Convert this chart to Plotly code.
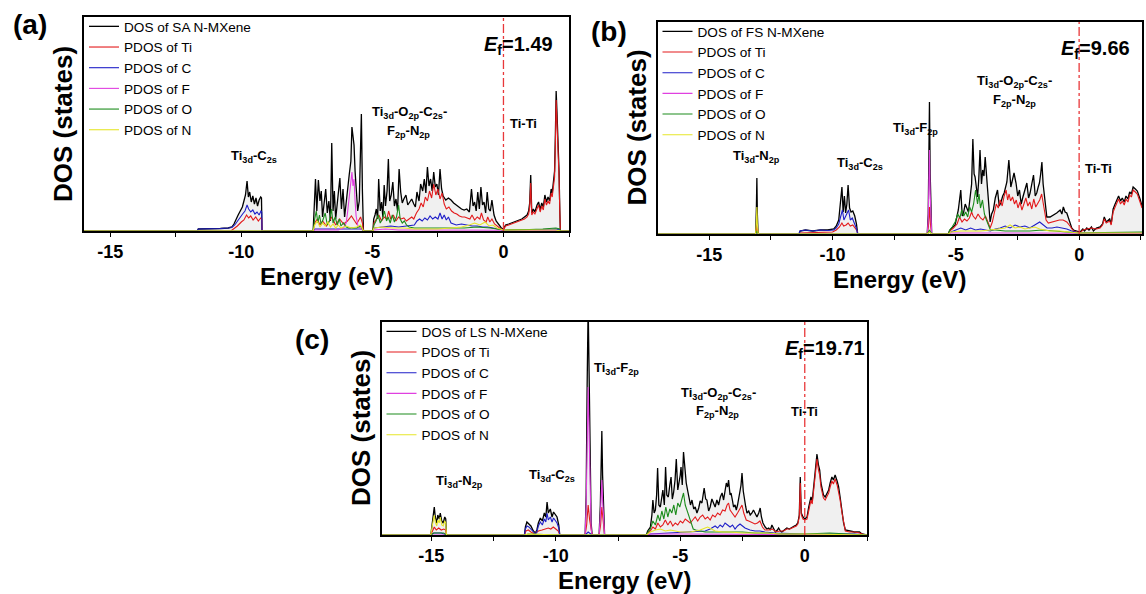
import plotly.graph_objects as go

W, H = 1146, 594
FONT = "Liberation Sans"

# ---------------------------------------------------------------------------
# DOS data: (energy relative to E_f in eV, DOS in states)
# ---------------------------------------------------------------------------

# (a) SA N-MXene
a_total = [(-16, 0), (-11.68, 0), (-11.64, 2), (-11.2, 2), (-10.8, 2.5), (-10.5, 3), (-10.36, 4), (-10.28, 7),
           (-10.2, 12), (-10.12, 16), (-10.04, 20), (-9.96, 24), (-9.9, 30), (-9.84, 36), (-9.78, 50), (-9.73, 34),
           (-9.68, 39), (-9.62, 29), (-9.56, 35), (-9.5, 27), (-9.44, 33), (-9.38, 25), (-9.32, 31), (-9.26, 34),
           (-9.23, 33), (-9.21, 0),
           (-7.26, 0), (-7.22, 30), (-7.17, 52), (-7.12, 20), (-7.06, 51), (-7.0, 30), (-6.95, 40), (-6.9, 14),
           (-6.84, 28), (-6.78, 42), (-6.72, 18), (-6.66, 30), (-6.6, 10), (-6.55, 88), (-6.5, 20), (-6.45, 40),
           (-6.4, 12), (-6.34, 30), (-6.28, 45), (-6.24, 53), (-6.18, 22), (-6.12, 42), (-6.06, 14), (-6.0, 30),
           (-5.94, 48), (-5.88, 57), (-5.82, 70), (-5.78, 104), (-5.74, 95), (-5.7, 86), (-5.66, 60), (-5.62, 40),
           (-5.56, 20), (-5.5, 30), (-5.46, 80), (-5.42, 117), (-5.38, 40), (-5.34, 0),
           (-4.98, 0), (-4.95, 12), (-4.9, 16), (-4.85, 22), (-4.8, 12), (-4.76, 52), (-4.7, 20), (-4.65, 29),
           (-4.6, 14), (-4.55, 46), (-4.5, 25), (-4.44, 40), (-4.39, 72), (-4.34, 30), (-4.28, 36), (-4.22, 49),
           (-4.16, 25), (-4.1, 32), (-4.04, 20), (-3.98, 62), (-3.92, 39), (-3.86, 28), (-3.8, 32), (-3.72, 36),
           (-3.65, 26), (-3.58, 29), (-3.5, 32), (-3.42, 27), (-3.36, 24), (-3.3, 39), (-3.22, 30), (-3.16, 47),
           (-3.08, 40), (-3.02, 52), (-2.96, 38), (-2.9, 64), (-2.84, 45), (-2.78, 52), (-2.72, 40), (-2.66, 59),
           (-2.6, 44), (-2.54, 47), (-2.48, 36), (-2.42, 62), (-2.36, 42), (-2.3, 35), (-2.2, 31), (-2.1, 33),
           (-2.0, 31), (-1.9, 28), (-1.8, 26), (-1.7, 24), (-1.6, 22), (-1.5, 21), (-1.4, 22), (-1.3, 19),
           (-1.22, 42), (-1.16, 25), (-1.1, 29), (-1.04, 20), (-0.98, 39), (-0.92, 22), (-0.86, 44), (-0.8, 26),
           (-0.74, 29), (-0.68, 18), (-0.62, 39), (-0.56, 22), (-0.5, 20), (-0.44, 31), (-0.36, 16), (-0.28, 10),
           (-0.18, 6), (-0.08, 3), (0.0, 2), (0.08, 6), (0.2, 7), (0.3, 8), (0.4, 9), (0.5, 10), (0.6, 11),
           (0.7, 12), (0.8, 14), (0.9, 16), (0.96, 20), (1.0, 28), (1.04, 56), (1.08, 18), (1.14, 22), (1.2, 19),
           (1.28, 26), (1.34, 29), (1.4, 21), (1.46, 28), (1.52, 24), (1.58, 36), (1.64, 29), (1.7, 34),
           (1.76, 30), (1.82, 42), (1.86, 38), (1.9, 50), (1.95, 60), (1.98, 96), (2.01, 140), (2.04, 120),
           (2.08, 96), (2.12, 60), (2.15, 20), (2.17, 0), (2.5, 0)]
a_ti = [(-16, 0), (-10.4, 0), (-10.3, 2), (-10.15, 5), (-10.0, 9), (-9.9, 11), (-9.8, 16), (-9.72, 13), (-9.64, 15),
        (-9.55, 11), (-9.45, 14), (-9.35, 10), (-9.26, 13), (-9.22, 12), (-9.21, 0),
        (-7.26, 0), (-7.2, 8), (-7.1, 12), (-7.0, 6), (-6.9, 10), (-6.75, 5), (-6.55, 14), (-6.4, 6), (-6.25, 12),
        (-6.1, 7), (-5.95, 10), (-5.8, 15), (-5.72, 12), (-5.6, 7), (-5.45, 14), (-5.38, 8), (-5.34, 0),
        (-4.98, 0), (-4.94, 8), (-4.85, 12), (-4.75, 16), (-4.65, 10), (-4.55, 14), (-4.45, 12), (-4.38, 20),
        (-4.3, 12), (-4.2, 16), (-4.1, 10), (-4.0, 14), (-3.9, 12), (-3.8, 13), (-3.7, 10), (-3.6, 12), (-3.5, 14),
        (-3.42, 12), (-3.32, 18), (-3.22, 22), (-3.14, 28), (-3.06, 24), (-2.98, 34), (-2.9, 30), (-2.82, 40),
        (-2.74, 33), (-2.66, 47), (-2.58, 36), (-2.5, 42), (-2.42, 32), (-2.34, 38), (-2.26, 27), (-2.18, 22),
        (-2.08, 24), (-1.98, 20), (-1.88, 18), (-1.78, 17), (-1.68, 15), (-1.58, 14), (-1.48, 14), (-1.38, 13),
        (-1.28, 12), (-1.2, 16), (-1.1, 11), (-1.0, 14), (-0.9, 12), (-0.84, 18), (-0.76, 11), (-0.66, 9),
        (-0.6, 14), (-0.52, 9), (-0.44, 12), (-0.34, 7), (-0.22, 4), (-0.1, 2), (0, 1), (0.08, 5), (0.2, 6),
        (0.3, 7), (0.4, 8), (0.5, 9), (0.6, 10), (0.7, 11), (0.8, 12), (0.9, 14), (0.96, 17), (1.0, 24),
        (1.04, 48), (1.08, 16), (1.14, 19), (1.2, 17), (1.28, 23), (1.34, 26), (1.4, 19), (1.46, 25), (1.52, 21),
        (1.58, 32), (1.64, 26), (1.7, 30), (1.76, 27), (1.82, 38), (1.86, 34), (1.9, 45), (1.95, 54), (1.98, 86),
        (2.01, 131), (2.04, 110), (2.08, 88), (2.12, 54), (2.15, 18), (2.17, 0), (2.5, 0)]
a_c = [(-16, 0), (-11.68, 0), (-11.64, 2), (-11.2, 2), (-10.8, 2.5), (-10.5, 3), (-10.36, 3.5), (-10.25, 6),
       (-10.15, 10), (-10.05, 14), (-9.95, 17), (-9.86, 20), (-9.78, 26), (-9.72, 22), (-9.64, 19), (-9.56, 21),
       (-9.48, 17), (-9.4, 19), (-9.32, 16), (-9.25, 20), (-9.22, 19), (-9.21, 0),
       (-7.26, 0), (-7.2, 2), (-6.6, 2), (-5.4, 2), (-5.34, 0),
       (-4.98, 0), (-4.94, 3), (-4.6, 4), (-4.3, 5), (-4.0, 4), (-3.7, 5), (-3.4, 6), (-3.3, 10), (-3.2, 12),
       (-3.1, 10), (-3.0, 13), (-2.9, 11), (-2.8, 15), (-2.7, 12), (-2.6, 14), (-2.5, 12), (-2.42, 18), (-2.34, 12),
       (-2.26, 16), (-2.18, 11), (-2.1, 14), (-2.0, 8), (-1.8, 6), (-1.6, 7), (-1.4, 6), (-1.2, 5), (-1.0, 5),
       (-0.8, 4), (-0.6, 4), (-0.4, 3), (-0.2, 2), (0, 1), (0.5, 1), (1.0, 1), (1.5, 1.5), (2.0, 2), (2.15, 1),
       (2.17, 0), (2.5, 0)]
a_f = [(-16, 0), (-7.26, 0), (-7.2, 1), (-6.3, 1), (-6.1, 3), (-6.0, 8), (-5.94, 20), (-5.88, 35), (-5.82, 50),
       (-5.78, 59), (-5.74, 45), (-5.7, 52), (-5.66, 30), (-5.62, 15), (-5.55, 5), (-5.45, 3), (-5.34, 0),
       (-4.98, 0), (-4.94, 1), (-4.5, 2), (-4.0, 1), (-3, 1), (-2, 1), (-1, 1), (0, 0.5), (2.2, 0.5), (2.5, 0)]
a_o = [(-16, 0), (-7.26, 0), (-7.2, 12), (-7.14, 20), (-7.08, 8), (-7.02, 16), (-6.95, 6), (-6.88, 12), (-6.8, 18),
       (-6.72, 6), (-6.64, 10), (-6.56, 22), (-6.5, 8), (-6.42, 14), (-6.34, 6), (-6.26, 12), (-6.2, 5), (-6.1, 8),
       (-6.0, 4), (-5.9, 3), (-5.6, 3), (-5.45, 5), (-5.34, 0),
       (-4.98, 0), (-4.94, 6), (-4.86, 10), (-4.78, 16), (-4.7, 8), (-4.62, 12), (-4.54, 20), (-4.46, 10),
       (-4.4, 14), (-4.32, 8), (-4.24, 16), (-4.16, 9), (-4.08, 14), (-4.0, 26), (-3.94, 12), (-3.86, 8),
       (-3.78, 10), (-3.7, 6), (-3.6, 4), (-3.4, 3), (-3.0, 3), (-2.5, 3), (-2.0, 3), (-1.5, 3), (-1.0, 4),
       (-0.5, 3), (0, 1), (0.5, 1), (1.0, 1.5), (1.5, 2), (2.0, 3), (2.15, 2), (2.17, 0), (2.5, 0)]
a_n = [(-16, 0), (-7.26, 0), (-7.2, 6), (-7.1, 10), (-7.0, 4), (-6.9, 8), (-6.8, 5), (-6.7, 9), (-6.6, 4),
       (-6.5, 7), (-6.4, 3), (-6.3, 6), (-6.2, 3), (-6.0, 5), (-5.8, 3), (-5.6, 4), (-5.45, 6), (-5.34, 0),
       (-4.98, 0), (-4.94, 3), (-4.6, 4), (-4.2, 3), (-3.8, 3), (-3.4, 2), (-3.0, 2), (-2.5, 2), (-2.0, 3),
       (-1.6, 4), (-1.3, 6), (-1.1, 8), (-0.9, 6), (-0.7, 9), (-0.55, 5), (-0.4, 6), (-0.25, 3), (0, 1),
       (1.0, 1), (2.0, 1), (2.17, 0), (2.5, 0)]

# (b) FS N-MXene
b_total = [(-17.1, 0), (-13.12, 0), (-13.09, 25), (-13.07, 56), (-13.05, 20), (-13.02, 0),
           (-11.36, 0), (-11.32, 3), (-11.1, 4), (-10.8, 3), (-10.5, 4), (-10.2, 4), (-9.95, 5), (-9.85, 8),
           (-9.75, 14), (-9.68, 30), (-9.62, 47), (-9.57, 22), (-9.52, 38), (-9.47, 21), (-9.42, 30), (-9.37, 49),
           (-9.31, 26), (-9.25, 22), (-9.18, 23), (-9.1, 18), (-9.03, 10), (-8.98, 0),
           (-6.16, 0), (-6.12, 20), (-6.09, 80), (-6.07, 132), (-6.04, 60), (-6.01, 15), (-5.98, 0),
           (-5.3, 0), (-5.26, 3), (-5.17, 6), (-5.03, 9), (-4.9, 24), (-4.8, 44), (-4.74, 18), (-4.69, 21),
           (-4.62, 30), (-4.56, 27), (-4.49, 22), (-4.42, 37), (-4.36, 50), (-4.31, 95), (-4.26, 60), (-4.22, 57),
           (-4.12, 37), (-4.07, 55), (-4.02, 84), (-3.96, 50), (-3.91, 64), (-3.86, 58), (-3.81, 77), (-3.72, 47),
           (-3.66, 30), (-3.61, 12), (-3.55, 20), (-3.48, 24), (-3.4, 36), (-3.31, 44), (-3.24, 28), (-3.18, 31),
           (-3.1, 38), (-3.04, 41), (-2.93, 52), (-2.85, 74), (-2.77, 47), (-2.7, 55), (-2.64, 61), (-2.56, 51),
           (-2.49, 38), (-2.42, 44), (-2.35, 30), (-2.28, 37), (-2.2, 45), (-2.12, 51), (-2.05, 36), (-1.99, 41),
           (-1.92, 50), (-1.85, 59), (-1.78, 38), (-1.72, 41), (-1.66, 47), (-1.61, 51), (-1.56, 60), (-1.51, 72),
           (-1.46, 50), (-1.42, 41), (-1.36, 22), (-1.31, 17), (-1.18, 17), (-1.04, 19), (-0.91, 21), (-0.77, 24),
           (-0.7, 20), (-0.64, 27), (-0.57, 22), (-0.5, 21), (-0.44, 16), (-0.37, 11), (-0.3, 6), (-0.23, 4),
           (-0.09, 3), (0.04, 2), (0.15, 5), (0.22, 3), (0.31, 6), (0.4, 4), (0.5, 7), (0.58, 3), (0.7, 6),
           (0.85, 7), (0.95, 10), (1.02, 17), (1.1, 12), (1.18, 14), (1.24, 15), (1.3, 10), (1.38, 25), (1.46, 30),
           (1.53, 35), (1.6, 38), (1.68, 33), (1.75, 36), (1.83, 32), (1.9, 38), (1.98, 35), (2.05, 42), (2.12, 40),
           (2.19, 47), (2.28, 45), (2.36, 43), (2.47, 35), (2.55, 28)]
b_ti = [(-17.1, 0), (-13.12, 0), (-13.08, 5), (-13.06, 10), (-13.04, 4), (-13.02, 0),
        (-11.36, 0), (-11.32, 1), (-10.0, 2), (-9.85, 4), (-9.72, 7), (-9.62, 11), (-9.55, 8), (-9.45, 9),
        (-9.37, 11), (-9.28, 8), (-9.18, 9), (-9.08, 6), (-9.0, 3), (-8.98, 0),
        (-6.16, 0), (-6.11, 8), (-6.07, 27), (-6.03, 10), (-5.98, 0),
        (-5.3, 0), (-5.25, 3), (-5.1, 6), (-4.95, 10), (-4.85, 17), (-4.75, 12), (-4.65, 15), (-4.55, 13),
        (-4.45, 16), (-4.36, 22), (-4.3, 18), (-4.2, 15), (-4.1, 20), (-4.0, 16), (-3.9, 14), (-3.8, 18),
        (-3.7, 12), (-3.61, 6), (-3.52, 12), (-3.44, 22), (-3.36, 30), (-3.28, 26), (-3.2, 34), (-3.12, 28),
        (-3.04, 38), (-2.96, 44), (-2.9, 34), (-2.84, 40), (-2.78, 33), (-2.7, 37), (-2.62, 30), (-2.55, 34),
        (-2.48, 26), (-2.4, 32), (-2.32, 24), (-2.24, 30), (-2.16, 36), (-2.08, 28), (-2.0, 32), (-1.92, 25),
        (-1.84, 35), (-1.76, 27), (-1.68, 31), (-1.6, 34), (-1.52, 40), (-1.46, 30), (-1.4, 24), (-1.34, 14),
        (-1.25, 11), (-1.1, 12), (-0.95, 13), (-0.8, 14), (-0.65, 14), (-0.5, 12), (-0.37, 8), (-0.23, 3),
        (0.04, 1), (0.15, 4), (0.31, 5), (0.5, 6), (0.7, 5), (0.85, 6), (0.95, 9), (1.02, 15), (1.1, 11),
        (1.18, 12), (1.24, 13), (1.3, 9), (1.38, 22), (1.46, 27), (1.53, 32), (1.6, 35), (1.68, 30), (1.75, 33),
        (1.83, 29), (1.9, 35), (1.98, 32), (2.05, 39), (2.12, 37), (2.19, 44), (2.28, 42), (2.36, 40),
        (2.47, 32), (2.55, 26)]
b_c = [(-17.1, 0), (-13.12, 0), (-13.07, 2), (-13.02, 0), (-11.36, 0), (-11.32, 3), (-11.1, 4), (-10.8, 3),
       (-10.5, 4), (-10.2, 3.5), (-9.95, 4), (-9.85, 6), (-9.75, 10), (-9.68, 16), (-9.6, 24), (-9.54, 14),
       (-9.47, 18), (-9.4, 22), (-9.35, 24), (-9.28, 14), (-9.2, 16), (-9.12, 11), (-9.04, 6), (-8.98, 0),
       (-6.16, 0), (-6.07, 2), (-5.98, 0),
       (-5.3, 0), (-5.2, 2), (-5.0, 4), (-4.8, 6), (-4.6, 4), (-4.4, 6), (-4.2, 4), (-4.0, 5), (-3.8, 4),
       (-3.6, 3), (-3.4, 5), (-3.2, 6), (-3.0, 8), (-2.8, 6), (-2.6, 9), (-2.4, 7), (-2.2, 8), (-2.0, 6),
       (-1.8, 9), (-1.6, 12), (-1.5, 10), (-1.4, 8), (-1.3, 6), (-1.1, 6), (-0.9, 7), (-0.7, 6), (-0.5, 5),
       (-0.3, 3), (0, 1), (1.0, 1), (2.55, 1)]
b_f = [(-17.1, 0), (-6.16, 0), (-6.12, 15), (-6.09, 60), (-6.07, 84), (-6.04, 40), (-6.01, 10), (-5.98, 0),
       (-5.3, 0), (-5.2, 1), (-3, 1), (-0.3, 1), (0, 0.5), (2.55, 0.5)]
b_o = [(-17.1, 0), (-13.12, 0), (-13.07, 3), (-13.02, 0), (-6.16, 0), (-6.07, 4), (-5.98, 0),
       (-5.3, 0), (-5.25, 4), (-5.15, 7), (-5.03, 12), (-4.92, 20), (-4.84, 16), (-4.76, 24), (-4.68, 18),
       (-4.6, 22), (-4.52, 17), (-4.44, 27), (-4.36, 22), (-4.28, 30), (-4.2, 44), (-4.12, 30), (-4.06, 40),
       (-4.0, 26), (-3.92, 34), (-3.84, 20), (-3.76, 14), (-3.68, 8), (-3.6, 4), (-3.4, 4), (-3.0, 3), (-2.5, 3),
       (-2.0, 3), (-1.5, 4), (-1.0, 3), (-0.5, 2), (0, 1), (1.0, 1.5), (2.0, 2), (2.55, 2)]
b_n = [(-17.1, 0), (-13.12, 0), (-13.09, 12), (-13.07, 27), (-13.05, 10), (-13.02, 0), (-6.16, 0), (-6.07, 2),
       (-5.98, 0),
       (-5.3, 0), (-5.2, 2), (-4.8, 3), (-4.4, 3), (-4.0, 3), (-3.6, 4), (-3.3, 5), (-3.0, 6), (-2.8, 9),
       (-2.6, 6), (-2.4, 7), (-2.2, 5), (-2.0, 6), (-1.8, 7), (-1.6, 5), (-1.4, 4), (-1.2, 3), (-0.8, 3),
       (-0.4, 2), (0, 1), (2.55, 1)]

# (c) LS N-MXene
c_total = [(-17, 0), (-15.02, 0), (-14.97, 10), (-14.92, 22), (-14.88, 28), (-14.84, 18), (-14.78, 12),
           (-14.74, 20), (-14.68, 16), (-14.64, 22), (-14.58, 14), (-14.52, 12), (-14.46, 18), (-14.42, 16),
           (-14.39, 0),
           (-11.26, 0), (-11.22, 8), (-11.16, 13), (-11.08, 11), (-11.0, 9), (-10.9, 4), (-10.82, 2), (-10.76, 5),
           (-10.7, 12), (-10.62, 17), (-10.54, 14), (-10.46, 22), (-10.4, 18), (-10.35, 33), (-10.3, 22),
           (-10.22, 26), (-10.15, 18), (-10.09, 23), (-10.02, 20), (-9.95, 18), (-9.88, 10), (-9.84, 0),
           (-8.82, 0), (-8.78, 40), (-8.74, 150), (-8.7, 230), (-8.66, 160), (-8.62, 60), (-8.58, 12), (-8.54, 0),
           (-8.26, 0), (-8.21, 30), (-8.17, 80), (-8.15, 104), (-8.12, 60), (-8.08, 15), (-8.04, 0),
           (-6.36, 0), (-6.31, 4), (-6.2, 8), (-6.14, 20), (-6.1, 35), (-6.05, 22), (-6.0, 25), (-5.95, 40),
           (-5.91, 67), (-5.86, 30), (-5.8, 28), (-5.75, 38), (-5.7, 45), (-5.64, 30), (-5.59, 68), (-5.54, 40),
           (-5.48, 38), (-5.42, 50), (-5.37, 58), (-5.32, 36), (-5.27, 42), (-5.21, 55), (-5.16, 76), (-5.1, 45),
           (-5.05, 52), (-5.0, 60), (-4.97, 68), (-4.92, 50), (-4.87, 83), (-4.81, 60), (-4.76, 52), (-4.7, 44),
           (-4.65, 38), (-4.59, 30), (-4.53, 35), (-4.46, 26), (-4.4, 28), (-4.33, 22), (-4.26, 27), (-4.2, 34),
           (-4.13, 32), (-4.08, 40), (-4.04, 47), (-3.98, 36), (-3.93, 35), (-3.86, 24), (-3.8, 28), (-3.73, 36),
           (-3.66, 32), (-3.6, 28), (-3.53, 35), (-3.46, 30), (-3.39, 38), (-3.32, 42), (-3.26, 35), (-3.2, 44),
           (-3.15, 52), (-3.1, 48), (-3.06, 55), (-3.0, 40), (-2.96, 42), (-2.9, 34), (-2.86, 28), (-2.8, 30),
           (-2.75, 25), (-2.7, 30), (-2.66, 38), (-2.6, 44), (-2.56, 50), (-2.52, 62), (-2.47, 44), (-2.43, 35),
           (-2.37, 28), (-2.32, 22), (-2.25, 24), (-2.19, 20), (-2.12, 22), (-2.06, 25), (-1.99, 21), (-1.92, 18),
           (-1.85, 22), (-1.79, 27), (-1.74, 18), (-1.68, 12), (-1.59, 8), (-1.52, 6), (-1.45, 7), (-1.38, 5),
           (-1.32, 10), (-1.25, 6), (-1.18, 3), (-1.1, 5), (-1.05, 7), (-0.98, 4), (-0.92, 3), (-0.82, 5),
           (-0.72, 7), (-0.62, 6), (-0.51, 8), (-0.42, 9), (-0.34, 10), (-0.28, 12), (-0.22, 20), (-0.18, 58),
           (-0.14, 22), (-0.07, 18), (0.0, 16), (0.09, 18), (0.16, 28), (0.25, 38), (0.3, 34), (0.35, 45),
           (0.42, 60), (0.49, 81), (0.55, 70), (0.6, 65), (0.65, 52), (0.69, 48), (0.75, 40), (0.82, 38),
           (0.9, 42), (0.96, 45), (1.02, 52), (1.09, 58), (1.15, 55), (1.22, 60), (1.3, 54), (1.36, 48),
           (1.42, 38), (1.49, 25), (1.56, 12), (1.63, 5), (1.8, 4), (2.0, 3), (2.2, 3), (2.3, 1), (2.5, 0)]
c_ti = [(-17, 0), (-15.02, 0), (-14.95, 4), (-14.88, 8), (-14.8, 5), (-14.7, 7), (-14.6, 5), (-14.5, 6),
        (-14.42, 5), (-14.39, 0),
        (-11.26, 0), (-11.2, 4), (-11.1, 5), (-11.0, 3), (-10.85, 1), (-10.7, 4), (-10.55, 5), (-10.4, 6),
        (-10.3, 7), (-10.2, 6), (-10.1, 8), (-10.0, 6), (-9.9, 4), (-9.84, 0),
        (-8.82, 0), (-8.76, 10), (-8.7, 30), (-8.64, 15), (-8.58, 4), (-8.54, 0),
        (-8.26, 0), (-8.2, 10), (-8.15, 28), (-8.1, 12), (-8.04, 0),
        (-6.36, 0), (-6.3, 2), (-6.2, 4), (-6.1, 8), (-6.0, 6), (-5.9, 12), (-5.8, 8), (-5.7, 10), (-5.6, 15),
        (-5.5, 10), (-5.4, 14), (-5.3, 9), (-5.2, 12), (-5.1, 10), (-5.0, 14), (-4.9, 12), (-4.8, 16),
        (-4.7, 14), (-4.6, 12), (-4.5, 15), (-4.4, 18), (-4.3, 14), (-4.2, 18), (-4.1, 20), (-4.0, 16),
        (-3.9, 18), (-3.8, 15), (-3.7, 20), (-3.6, 18), (-3.5, 22), (-3.4, 20), (-3.3, 25), (-3.2, 24),
        (-3.12, 30), (-3.06, 32), (-3.0, 25), (-2.9, 22), (-2.8, 18), (-2.7, 22), (-2.6, 26), (-2.52, 30),
        (-2.45, 22), (-2.35, 15), (-2.25, 14), (-2.1, 12), (-2.0, 11), (-1.9, 12), (-1.8, 14), (-1.7, 8),
        (-1.6, 5), (-1.45, 5), (-1.3, 6), (-1.15, 3), (-1.0, 4), (-0.85, 4), (-0.72, 6), (-0.6, 6), (-0.5, 7),
        (-0.42, 8), (-0.34, 9), (-0.28, 11), (-0.22, 18), (-0.18, 52), (-0.14, 20), (-0.07, 16), (0.0, 15),
        (0.09, 16), (0.16, 26), (0.25, 35), (0.3, 31), (0.35, 42), (0.42, 56), (0.49, 76), (0.55, 65),
        (0.6, 60), (0.65, 48), (0.69, 44), (0.75, 37), (0.82, 35), (0.9, 39), (0.96, 42), (1.02, 48),
        (1.09, 54), (1.15, 51), (1.22, 56), (1.3, 50), (1.36, 44), (1.42, 35), (1.49, 23), (1.56, 11),
        (1.63, 4), (1.8, 3), (2.0, 3), (2.2, 2), (2.3, 1), (2.5, 0)]
c_c = [(-17, 0), (-15.02, 0), (-14.9, 2), (-14.6, 2), (-14.39, 0),
       (-11.26, 0), (-11.22, 6), (-11.16, 9), (-11.08, 8), (-11.0, 6), (-10.9, 3), (-10.82, 1), (-10.76, 3),
       (-10.7, 9), (-10.62, 13), (-10.54, 10), (-10.46, 16), (-10.4, 13), (-10.35, 22), (-10.3, 15),
       (-10.22, 18), (-10.15, 13), (-10.09, 17), (-10.02, 14), (-9.95, 12), (-9.88, 7), (-9.84, 0),
       (-8.82, 0), (-8.7, 3), (-8.54, 0),
       (-6.36, 0), (-6.2, 1), (-5.5, 2), (-5.0, 2), (-4.5, 3), (-4.0, 4), (-3.8, 6), (-3.6, 9), (-3.5, 7),
       (-3.4, 10), (-3.3, 8), (-3.2, 12), (-3.1, 10), (-3.0, 8), (-2.9, 10), (-2.8, 6), (-2.7, 9), (-2.6, 11),
       (-2.5, 9), (-2.4, 7), (-2.2, 5), (-2.0, 4), (-1.8, 4), (-1.6, 3), (-1.2, 2), (-0.5, 1), (0, 1), (1.0, 1),
       (2.0, 1), (2.5, 0)]
c_f = [(-17, 0), (-8.82, 0), (-8.78, 30), (-8.74, 110), (-8.7, 148), (-8.66, 100), (-8.62, 30), (-8.58, 6),
       (-8.54, 0),
       (-8.26, 0), (-8.21, 20), (-8.17, 45), (-8.15, 55), (-8.12, 35), (-8.08, 8), (-8.04, 0),
       (-6.36, 0), (-6.2, 1), (-5, 1), (-3, 1), (-1, 1), (0, 0.5), (2.5, 0)]
c_o = [(-17, 0), (-15.02, 0), (-14.9, 2), (-14.5, 2), (-14.39, 0), (-11.26, 0), (-11.1, 1), (-9.84, 0),
       (-6.36, 0), (-6.3, 3), (-6.2, 6), (-6.1, 14), (-6.0, 10), (-5.9, 20), (-5.82, 14), (-5.74, 24),
       (-5.66, 16), (-5.58, 28), (-5.5, 18), (-5.42, 26), (-5.34, 22), (-5.26, 30), (-5.18, 20), (-5.1, 32),
       (-5.02, 28), (-4.94, 36), (-4.87, 42), (-4.8, 30), (-4.72, 24), (-4.64, 16), (-4.56, 10), (-4.48, 6),
       (-4.38, 5), (-4.2, 4), (-4.0, 3), (-3.5, 3), (-3.0, 3), (-2.5, 3), (-2.0, 2), (-1.5, 2), (-1.0, 1),
       (0, 1), (1.0, 2), (2.0, 1), (2.5, 0)]
c_n = [(-17, 0), (-15.02, 0), (-14.97, 8), (-14.92, 16), (-14.88, 20), (-14.84, 13), (-14.78, 9), (-14.74, 15),
       (-14.68, 12), (-14.64, 18), (-14.58, 10), (-14.52, 9), (-14.46, 14), (-14.42, 12), (-14.39, 0),
       (-11.26, 0), (-11.1, 1), (-9.84, 0),
       (-6.36, 0), (-6.2, 3), (-6.0, 5), (-5.8, 6), (-5.6, 4), (-5.4, 5), (-5.2, 4), (-5.0, 3), (-4.6, 3),
       (-4.2, 5), (-4.0, 7), (-3.9, 8), (-3.75, 6), (-3.6, 4), (-3.3, 3), (-3.0, 3), (-2.5, 2), (-2.0, 2),
       (-1.5, 2), (-1.0, 1), (0, 1), (2.5, 0)]

series_names = ["PDOS of Ti", "PDOS of C", "PDOS of F", "PDOS of O", "PDOS of N"]
total_names = ["DOS of SA N-MXene", "DOS of FS N-MXene", "DOS of LS N-MXene"]
fermi_labels = ["1.49", "9.66", "19.71"]
tick_values = [-15, -10, -5, 0]
tick_text = ["-15", "-10", "-5", "0"]

COLORS = ["#000000", "#e31a1c", "#1f1fc8", "#e040e0", "#1c8c1c", "#e6e629"]
WIDTHS = [1.3, 1.1, 1.1, 1.1, 1.1, 1.1]

# ---------------------------------------------------------------------------
# Layout geometry (pixels in the 1146 x 594 page)
# ---------------------------------------------------------------------------
def fx(px):
    return px / W


def fy(py):
    return 1 - py / H


panels = [
    dict(box=(84, 569, 17, 231), xr=(-16, 2.5), ymax=214, data=[a_total, a_ti, a_c, a_f, a_o, a_n]),
    dict(box=(657.5, 1142, 22, 234), xr=(-17.1, 2.55), ymax=212, data=[b_total, b_ti, b_c, b_f, b_o, b_n]),
    dict(box=(381.5, 867, 322, 535), xr=(-17, 2.5), ymax=213, data=[c_total, c_ti, c_c, c_f, c_o, c_n]),
]

fig = go.Figure()
layout = dict(
    width=W, height=H, margin=dict(l=0, r=0, t=0, b=0),
    paper_bgcolor="white", plot_bgcolor="white",
    font=dict(family=FONT, color="black"),
    showlegend=True, annotations=[], shapes=[],
)

for i, p in enumerate(panels):
    n = "" if i == 0 else str(i + 1)
    xa, ya, lg = "x" + n, "y" + n, "legend" + n
    x0, x1, y0, y1 = p["box"]

    # light grey area under the total DOS
    e, d = zip(*p["data"][0])
    fig.add_trace(go.Scatter(x=e, y=d, xaxis=xa, yaxis=ya, mode="lines", line=dict(width=0),
                             fill="tozeroy", fillcolor="#f0f0f0", hoverinfo="skip", showlegend=False))
    names = [total_names[i]] + series_names
    for pts, name, col, lw in zip(p["data"], names, COLORS, WIDTHS):
        e, d = zip(*pts)
        fig.add_trace(go.Scatter(x=e, y=d, xaxis=xa, yaxis=ya, mode="lines", name=name,
                                 line=dict(color=col, width=lw), legend=lg))

    layout["xaxis" + n] = dict(
        domain=[fx(x0), fx(x1)], range=list(p["xr"]), anchor=ya,
        showline=True, linecolor="black", linewidth=1.5, mirror=True,
        ticks="outside", ticklen=4, tickwidth=1.2, tickcolor="black",
        tickmode="array", tickvals=tick_values, ticktext=tick_text,
        showgrid=False, zeroline=False,
        tickfont=dict(family=FONT, size=18, weight="bold", color="black"),
        minor=dict(tickmode="linear", dtick=2.5, tick0=0, ticks="outside", ticklen=4, tickwidth=1.2,
                   tickcolor="black", showgrid=False),
    )
    layout["yaxis" + n] = dict(
        domain=[fy(y1), fy(y0)], range=[0, p["ymax"]], anchor=xa,
        showline=True, linecolor="black", linewidth=1.5, mirror=True,
        ticks="", showticklabels=False, showgrid=False, zeroline=False,
    )
    layout[lg] = dict(
        x=fx(x0), y=fy(y0 - 6), xanchor="left", yanchor="top",
        bgcolor="rgba(0,0,0,0)", borderwidth=0, tracegroupgap=0, itemwidth=30,
        font=dict(family=FONT, size=13.6, color="black"),
    )

    # Fermi level
    layout["shapes"].append(dict(type="line", xref=xa, yref=ya + " domain", x0=0, x1=0, y0=0, y1=1,
                                 line=dict(color="#e8383a", width=1.3, dash="dashdot")))

    cx, cy = (x0 + x1) / 2, (y0 + y1) / 2
    layout["annotations"] += [
        dict(text="<b>Energy (eV)</b>", x=fx(cx), y=fy(y1 + 45), xref="paper", yref="paper",
             showarrow=False, font=dict(size=24), xanchor="center", yanchor="middle"),
        dict(text="<b>DOS (states)</b>", x=fx(x0 - 21), y=fy(cy), xref="paper", yref="paper",
             showarrow=False, font=dict(size=26), textangle=-90, xanchor="center", yanchor="middle"),
    ]

# panel tags, Fermi labels and band-character labels (x, y in page pixels)
text_items = [
    ("<b>(a)</b>", 30, 24, 28), ("<b>(b)</b>", 609, 32, 28), ("<b>(c)</b>", 312, 340, 28),
    ("<b><i>E</i><sub>f</sub>=" + fermi_labels[0] + "</b>", 518, 45, 20),
    ("<b><i>E</i><sub>f</sub>=" + fermi_labels[1] + "</b>", 1095, 50, 20),
    ("<b><i>E</i><sub>f</sub>=" + fermi_labels[2] + "</b>", 825, 349, 20),
    # (a)
    ("<b>Ti<sub>3d</sub>-C<sub>2s</sub></b>", 254, 157, 13),
    ("<b>Ti<sub>3d</sub>-O<sub>2p</sub>-C<sub>2s</sub>-</b>", 409, 113, 13),
    ("<b>F<sub>2p</sub>-N<sub>2p</sub></b>", 408, 131, 13),
    ("<b>Ti-Ti</b>", 523, 123, 13),
    # (b)
    ("<b>Ti<sub>3d</sub>-N<sub>2p</sub></b>", 756, 157, 13),
    ("<b>Ti<sub>3d</sub>-C<sub>2s</sub></b>", 860, 163, 13),
    ("<b>Ti<sub>3d</sub>-F<sub>2p</sub></b>", 915, 129, 13),
    ("<b>Ti<sub>3d</sub>-O<sub>2p</sub>-C<sub>2s</sub>-</b>", 1014, 81, 13),
    ("<b>F<sub>2p</sub>-N<sub>2p</sub></b>", 1014, 100, 13),
    ("<b>Ti-Ti</b>", 1098, 168, 13),
    # (c)
    ("<b>Ti<sub>3d</sub>-N<sub>2p</sub></b>", 459, 481, 13),
    ("<b>Ti<sub>3d</sub>-C<sub>2s</sub></b>", 552, 475, 13),
    ("<b>Ti<sub>3d</sub>-F<sub>2p</sub></b>", 616, 368, 13),
    ("<b>Ti<sub>3d</sub>-O<sub>2p</sub>-C<sub>2s</sub>-</b>", 718, 393, 13),
    ("<b>F<sub>2p</sub>-N<sub>2p</sub></b>", 717, 412, 13),
    ("<b>Ti-Ti</b>", 804, 412, 13),
]
for txt, px, py, size in text_items:
    layout["annotations"].append(dict(text=txt, x=fx(px), y=fy(py), xref="paper", yref="paper",
                                      showarrow=False, font=dict(size=size), xanchor="center",
                                      yanchor="middle"))

fig.update_layout(**layout)
fig.write_html("out.html")
